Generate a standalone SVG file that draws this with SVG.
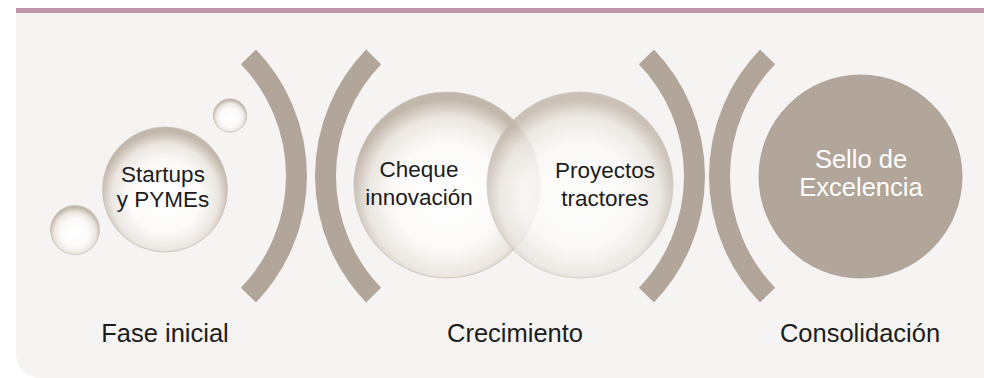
<svg xmlns="http://www.w3.org/2000/svg" width="984" height="378" viewBox="0 0 984 378">
  <defs>
    <radialGradient id="pearl" cx="50%" cy="56%" r="52%">
      <stop offset="0" stop-color="#ffffff"/>
      <stop offset="0.55" stop-color="#fcfbfa"/>
      <stop offset="0.82" stop-color="#ebe6e0"/>
      <stop offset="1" stop-color="#c2b7ab"/>
    </radialGradient>
    <style>
      .bg { fill: #f5f4f2; }
      .bar { fill: #bf95ab; }
      .arc { fill: none; stroke: #b2a69a; stroke-width: 21; stroke-linecap: butt; }
      .pearl { fill: url(#pearl); stroke: #c9c1b8; stroke-width: 0.8; }
      .seal { fill: #b2a69a; stroke: #a59b90; stroke-width: 0.8; }
      .t { font-family: "Liberation Sans", Arial, Helvetica, sans-serif; fill: #1c1c1c; text-anchor: middle; }
      .in { font-size: 22.5px; }
      .lbl { font-size: 25.5px; }
      .w { fill: #ffffff; font-size: 25.5px; }
    </style>
  </defs>
  <rect x="0" y="0" width="984" height="378" fill="#ffffff"/>
  <path class="bg" d="M16,13 H984 V378 H40 A24,24 0 0 1 16,354 Z"/>
  <rect class="bar" x="16" y="8" width="968" height="5"/>

  <g id="connectors">
    <path class="arc" d="M248.4,56.9 A171.5,171.5 0 0 1 248.4,295.1"/>
    <path class="arc" d="M373.6,56.9 A171.5,171.5 0 0 0 373.6,295.1"/>
    <path class="arc" d="M646.4,56.9 A171.5,171.5 0 0 1 646.4,295.1"/>
    <path class="arc" d="M767.6,56.9 A171.5,171.5 0 0 0 767.6,295.1"/>
  </g>

  <g id="bubble-small-top">
    <circle class="pearl" cx="230" cy="115.5" r="16.7"/>
  </g>
  <g id="bubble-small-left">
    <circle class="pearl" cx="75" cy="230" r="24.5"/>
  </g>
  <g id="startups">
    <circle class="pearl" cx="165" cy="189.5" r="62.5"/>
    <text class="t in" x="163" y="182">Startups</text>
    <text class="t in" x="163" y="207">y PYMEs</text>
  </g>
  <g id="cheque">
    <circle class="pearl" cx="447" cy="185" r="93"/>
    <text class="t in" x="419" y="177">Cheque</text>
    <text class="t in" x="419" y="205">innovación</text>
  </g>
  <g id="proyectos">
    <circle class="pearl" cx="580" cy="185" r="93" opacity="0.82"/>
    <text class="t in" x="605" y="178">Proyectos</text>
    <text class="t in" x="605" y="206">tractores</text>
  </g>
  <g id="sello">
    <circle class="seal" cx="860.5" cy="176.5" r="101.5"/>
    <text class="t w" x="861" y="168">Sello de</text>
    <text class="t w" x="861" y="196">Excelencia</text>
  </g>

  <g id="label-fase">
    <text class="t lbl" x="165" y="342">Fase inicial</text>
  </g>
  <g id="label-crecimiento">
    <text class="t lbl" x="515" y="342">Crecimiento</text>
  </g>
  <g id="label-consolidacion">
    <text class="t lbl" x="860" y="342">Consolidación</text>
  </g>
</svg>
